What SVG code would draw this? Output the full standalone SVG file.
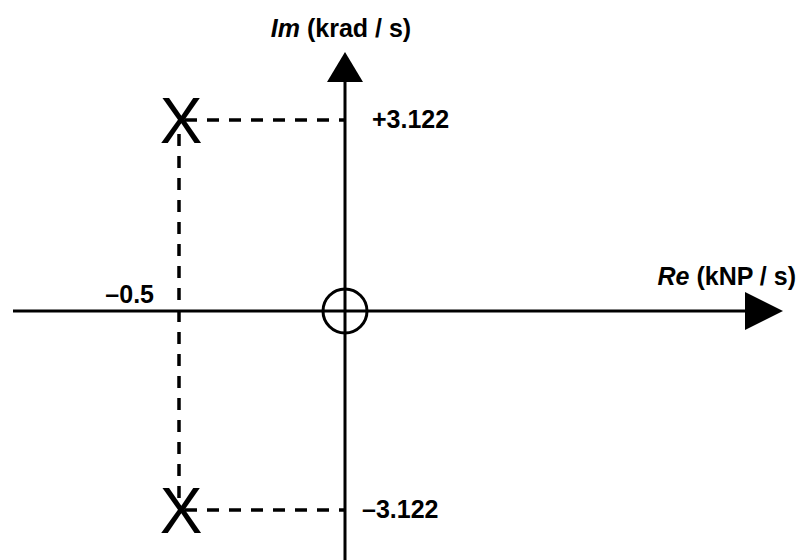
<svg xmlns="http://www.w3.org/2000/svg" width="802" height="560" viewBox="0 0 802 560">
<style>
.ax{stroke:#000;stroke-width:3;fill:none}
.dash{stroke:#000;stroke-width:3.5;stroke-dasharray:12,10;fill:none}
.lbl{font-family:"Liberation Sans",Arial,sans-serif;font-size:25px;font-weight:bold;fill:#000}
.pole{font-family:"Liberation Sans",Arial,sans-serif;font-size:64px;fill:#000}
</style>
<rect width="802" height="560" fill="#fff"/>
<g id="connectors">
<line class="dash" x1="185" y1="120" x2="345" y2="120"/>
<line class="dash" x1="185" y1="510" x2="345" y2="510"/>
<line class="dash" x1="179" y1="134" x2="179" y2="500"/>
<line class="ax" x1="345" y1="80" x2="345" y2="560"/>
<polygon points="345,52 327,82 363,82" fill="#000"/>
<line class="ax" x1="13" y1="311" x2="748" y2="311"/>
<polygon points="783,311 745,292 745,330" fill="#000"/>
</g>
<g id="zero"><circle class="ax" cx="345" cy="311" r="22"/></g>
<g id="pole1"><text class="pole" x="181" y="143" text-anchor="middle">X</text></g>
<g id="pole2"><text class="pole" x="181" y="533" text-anchor="middle">X</text></g>
<g id="labels">
<text class="lbl" x="341" y="37" text-anchor="middle"><tspan font-style="italic">Im</tspan> (krad / s)</text>
<text class="lbl" x="796" y="285" text-anchor="end"><tspan font-style="italic">Re</tspan> (kNP / s)</text>
<text class="lbl" x="372" y="128">+3.122</text>
<text class="lbl" x="362" y="518">–3.122</text>
<text class="lbl" x="154" y="303" text-anchor="end">–0.5</text>
</g>
</svg>
